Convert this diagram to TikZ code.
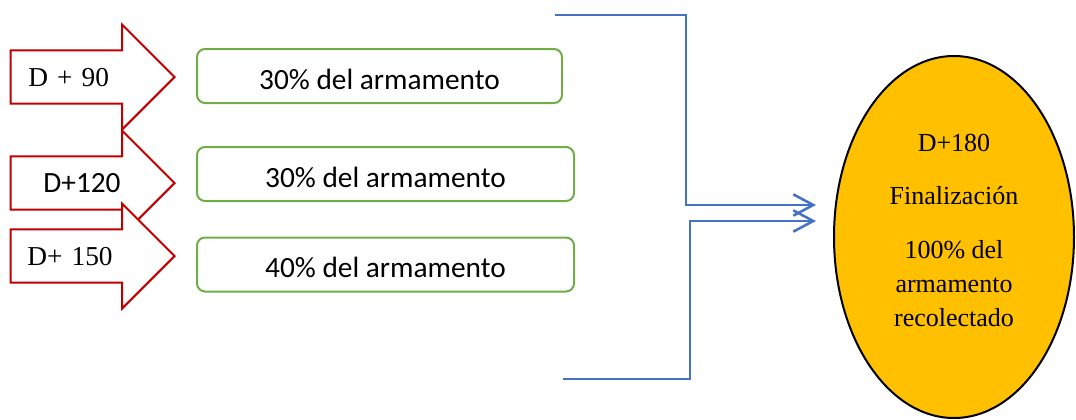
\documentclass[tikz,border=0pt]{standalone}
\usepackage{fontspec}
\setmainfont{Liberation Serif}
\newfontfamily\calibri{Carlito}
\usetikzlibrary{arrows.meta,shapes.arrows,shapes.geometric}
\definecolor{dayred}{HTML}{C00000}
\definecolor{partgreen}{HTML}{70AD47}
\definecolor{linkblue}{HTML}{4472C4}
\definecolor{goalgold}{HTML}{FFC000}
\tikzset{%
  >={Straight Barb[length=15pt,width=16pt]},
            base/.style = {line width=1.5pt, inner sep=0pt, text centered},
   day/.style = {base, single arrow, draw=dayred, fill=white, anchor=tip,
                 single arrow head extend=19.5pt, text width=101.6pt,
                 text height=13.5pt, text depth=0pt, inner ysep=12.4pt,
                 align=center, font=\fontsize{20.5}{24}\selectfont},
  part/.style = {base, rectangle, rounded corners=6pt, draw=partgreen,
                 minimum height=40.5pt, text height=20pt, text depth=0pt,
                 font=\calibri\fontsize{22}{26}\selectfont},
  goal/.style = {base, ellipse, draw=black, fill=goalgold, minimum width=180pt,
                 minimum height=271.5pt, align=center, text depth=10.5pt,
                 font=\fontsize{19.5}{25.5}\selectfont},
  link/.style = {->, line width=1.9pt, draw=linkblue},
}
\begin{document}
\begin{tikzpicture}[x=0.75pt, y=-0.75pt]
  \useasboundingbox (0,0) rectangle (1076,419);

  \node (onD90)   [day] at (176,77)  {\hspace*{-16pt}D + 90};
  \node (onD120)  [day, font=\calibri\fontsize{22}{26}\selectfont]
                        at (176,183) {\hspace*{4pt}D+120};
  \node (onD150)  [day] at (176,256) {\hspace*{-14pt}D+ 150};

  \node (onPart90)  [part, minimum width=273.75pt] at (379.5,76)  {30\% del armamento};
  \node (onPart120) [part, minimum width=282.75pt] at (385.5,174) {30\% del armamento};
  \node (onPart150) [part, minimum width=282.75pt] at (385.5,264.5) {40\% del armamento};

  \node (onD180) [goal] at (954,237)
    {D+180\\[14.25pt] Finalización\\[15pt] 100\% del\\ armamento\\ recolectado};

  \coordinate (topEnd) at (555,15);
  \coordinate (topIn)  at (816,205);
  \coordinate (botEnd) at (563,379);
  \coordinate (botIn)  at (816,221);

  \draw[link] (topEnd) -- ++(131,0) |- (topIn);
  \draw[link] (botEnd) -- ++(127,0) |- (botIn);
\end{tikzpicture}
\end{document}
